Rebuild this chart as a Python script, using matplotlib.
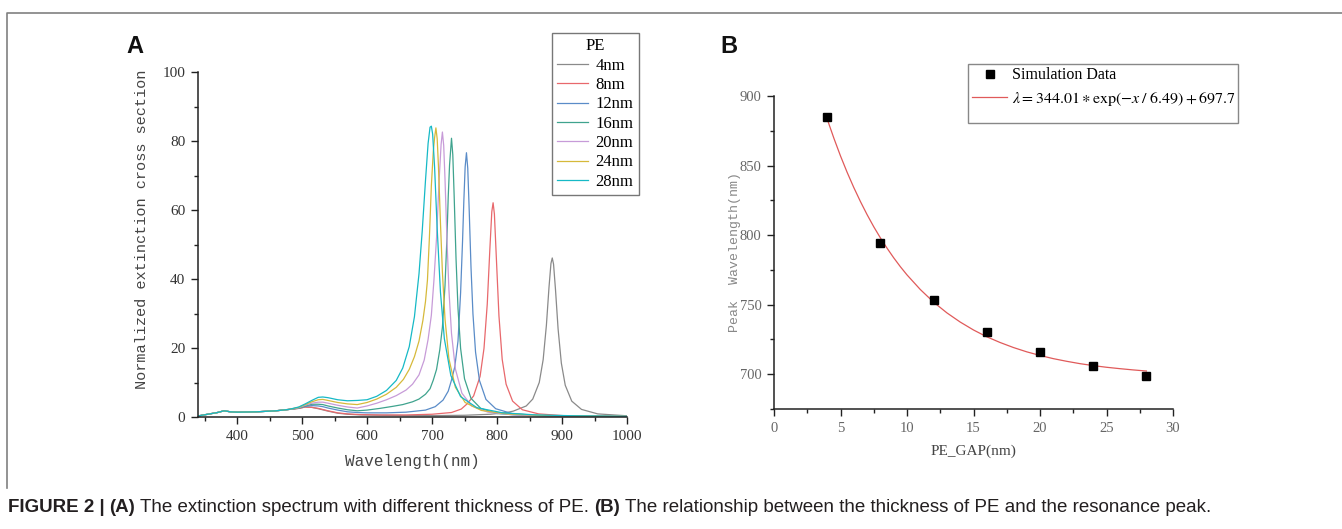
import matplotlib
matplotlib.use("Agg")
import matplotlib.pyplot as plt
from matplotlib.lines import Line2D
from matplotlib.patches import Rectangle
from matplotlib.ticker import MultipleLocator

plt.rcParams["font.family"] = "serif"
plt.rcParams["font.serif"] = ["Liberation Serif", "DejaVu Serif"]
plt.rcParams["mathtext.fontset"] = "stix"

# ---- panel A: extinction spectra ----
PE_LABELS = ["4nm", "8nm", "12nm", "16nm", "20nm", "24nm", "28nm"]
PE_COLORS = ["#8a8a8a", "#e8686c", "#5a8cc8", "#3fa38e", "#c79bd8", "#d6b93a", "#16b9c6"]

BASE_NM = [340, 355, 370, 380, 390, 400, 430, 460, 480]
BASE_VAL = [0.3, 0.8, 1.3, 1.8, 1.5, 1.4, 1.5, 1.8, 2.2]

nm_4 = BASE_NM + [495, 505, 515, 525, 540, 555, 570, 590, 620, 660, 700, 750, 790, 815,
                  825, 845, 855, 865, 871, 876, 880, 883, 885, 887, 890, 894, 899, 905,
                  915, 930, 955, 1000]
val_4 = BASE_VAL + [2.5, 2.9, 2.8, 2.4, 1.7, 1.1, 0.8, 0.6, 0.5, 0.4, 0.4, 0.5, 0.8, 1.3,
                    1.7, 3.2, 5.2, 10.0, 16.6, 26.6, 37.6, 44.5, 46.1, 44.3, 36.9, 25.5, 15.6, 9.2,
                    4.6, 2.2, 0.9, 0.35]

nm_8 = BASE_NM + [495, 505, 515, 525, 540, 555, 570, 590, 620, 660, 700, 730, 745,
                  754, 764, 774, 780, 785, 789, 792, 794, 796, 799, 803, 808, 814,
                  824, 839, 864, 904, 950, 1000]
val_8 = BASE_VAL + [2.5, 2.9, 2.8, 2.5, 1.8, 1.2, 0.9, 0.7, 0.6, 0.6, 0.8, 1.3, 2.3,
                    3.8, 6.1, 11.8, 19.9, 32.7, 48.6, 59.5, 62.1, 58.8, 46.1, 29.3, 16.7, 9.5,
                    4.6, 2.1, 0.9, 0.37, 0.25, 0.18]

nm_12 = BASE_NM + [495, 505, 515, 525, 532, 540, 555, 570, 585, 600, 630, 660, 690, 705,
                   717, 725, 730, 735, 740, 744, 747, 749, 751, 753, 755, 757, 760, 763,
                   767, 773, 783, 798, 823, 863, 920, 1000]
val_12 = BASE_VAL + [2.6, 3.1, 3.3, 3.2, 3.0, 2.6, 2.0, 1.5, 1.3, 1.2, 1.2, 1.4, 2.0, 3.0,
                     4.9, 7.5, 10.7, 14.5, 22.0, 36.0, 51.0, 62.7, 72.5, 76.6, 72.1, 61.3, 43.4, 29.9,
                     18.8, 10.6, 5.1, 2.4, 1.0, 0.45, 0.25, 0.15]

nm_16 = BASE_NM + [495, 505, 515, 525, 532, 540, 555, 570, 585, 600, 620, 640, 655, 670,
                   680, 690, 697, 702, 707, 712, 716, 720, 723, 725, 727, 730, 732, 734,
                   737, 740, 744, 750, 760, 775, 800, 840, 900, 1000]
val_16 = BASE_VAL + [2.6, 3.2, 3.7, 3.7, 3.6, 3.2, 2.6, 2.1, 1.8, 2.0, 2.5, 3.1, 3.6, 4.4,
                     5.2, 6.6, 8.2, 10.7, 13.8, 19.5, 26.0, 38.0, 52.0, 64.0, 73.0, 80.8, 76.0, 64.6,
                     45.7, 31.5, 19.9, 11.1, 5.4, 2.5, 1.0, 0.45, 0.25, 0.15]

nm_20 = BASE_NM + [495, 505, 515, 525, 532, 540, 555, 570, 585, 600, 615, 630, 645, 660,
                   670, 680, 688, 694, 699, 703, 707, 711, 714, 716, 718, 720, 723, 726,
                   730, 736, 746, 761, 786, 826, 880, 940, 1000]
val_20 = BASE_VAL + [2.7, 3.4, 4.0, 4.3, 4.3, 4.0, 3.4, 2.9, 2.6, 3.2, 4.0, 5.0, 6.2, 7.8,
                     9.5, 12.2, 16.5, 22.5, 29.5, 39.7, 52.0, 68.8, 79.0, 82.6, 78.7, 69.0, 51.5, 37.0,
                     24.2, 13.9, 6.9, 3.2, 1.4, 0.6, 0.35, 0.25, 0.2]

nm_24 = BASE_NM + [495, 505, 515, 525, 532, 540, 555, 570, 585, 600, 615, 630, 645, 656,
                   665, 673, 680, 686, 690, 693, 696, 699, 702, 704, 706, 708, 710, 713,
                   716, 720, 726, 736, 751, 776, 816, 870, 930, 1000]
val_24 = BASE_VAL + [2.8, 3.6, 4.4, 5.0, 5.1, 4.8, 4.2, 3.8, 3.6, 4.2, 5.2, 6.6, 8.6, 10.9,
                     13.8, 17.5, 22.0, 28.0, 33.5, 39.7, 52.0, 67.0, 77.0, 81.0, 83.8, 80.6, 72.3, 56.3,
                     42.0, 28.4, 16.9, 8.6, 4.2, 1.9, 0.9, 0.45, 0.3, 0.2]

nm_28 = BASE_NM + [495, 505, 515, 525, 532, 540, 555, 570, 585, 600, 615, 630, 645, 655,
                   665, 673, 680, 685, 690, 694, 697, 699, 701, 704, 708, 713, 719, 729,
                   744, 769, 809, 860, 920, 1000]
val_28 = BASE_VAL + [2.9, 3.8, 4.8, 5.7, 5.8, 5.6, 5.0, 4.7, 4.8, 5.0, 6.0, 7.7, 10.6, 14.2,
                     20.4, 29.1, 41.5, 54.0, 68.6, 79.3, 84.0, 84.3, 82.0, 72.3, 54.5, 36.2, 22.7, 12.0,
                     5.9, 2.7, 1.2, 0.6, 0.35, 0.2]

SPECTRA_NM = [nm_4, nm_8, nm_12, nm_16, nm_20, nm_24, nm_28]
SPECTRA_VAL = [val_4, val_8, val_12, val_16, val_20, val_24, val_28]

# ---- panel B: peak wavelength vs PE gap ----
GAP_NM = [4, 8, 12, 16, 20, 24, 28]
PEAK_NM = [885, 794, 753, 730, 716, 706, 699]
# fitted curve lambda = 344.01*exp(-x/6.49)+697.7, evaluated at these x
FIT_X = [4, 4.5, 5, 5.5, 6, 6.5, 7, 7.5, 8, 8.5, 9, 9.5, 10, 11, 12, 13, 14, 15, 16,
         17, 18, 19, 20, 21, 22, 23, 24, 25, 26, 27, 28]
FIT_Y = [883.4, 869.7, 856.9, 845.1, 834.2, 824.1, 814.7, 806.0, 798.0, 790.6, 783.7,
         777.3, 771.4, 760.9, 751.8, 744.1, 737.5, 731.8, 726.9, 722.8, 719.2, 716.1,
         713.5, 711.2, 709.3, 707.6, 706.2, 705.0, 704.0, 703.1, 702.3]

W, H = 1342, 529
fig = plt.figure(figsize=(W / 100, H / 100), dpi=100)


def fx(px):
    return px / W


def fy(py):
    return 1 - py / H


def style_axes(ax, label_color, size):
    for side in ("top", "right"):
        ax.spines[side].set_visible(False)
    for side in ("left", "bottom"):
        ax.spines[side].set_linewidth(1.1)
        ax.spines[side].set_color("#222222")
    ax.tick_params(which="major", direction="out", length=5, width=1.0, color="#222222",
                   labelsize=size, labelcolor=label_color, pad=4)
    ax.tick_params(which="minor", direction="out", length=3, width=1.0, color="#222222")


# ---- A ----
axA = fig.add_axes([fx(198), fy(417), fx(627 - 198), (417 - 72) / H])
for x, y, c, lab in zip(SPECTRA_NM, SPECTRA_VAL, PE_COLORS, PE_LABELS):
    axA.plot(x, y, color=c, lw=0.9, label=lab)
axA.set_xlim(340, 1000)
axA.set_ylim(0, 100)
axA.xaxis.set_major_locator(MultipleLocator(100))
axA.xaxis.set_minor_locator(MultipleLocator(50))
axA.yaxis.set_major_locator(MultipleLocator(20))
axA.yaxis.set_minor_locator(MultipleLocator(10))
style_axes(axA, "#333333", 11)
axA.set_xlabel("Wavelength(nm)", family="Liberation Mono", fontsize=11.5, color="#444444",
               labelpad=8)
axA.set_ylabel("Normalized extinction cross section", family="Liberation Mono", fontsize=11,
               color="#444444")
axA.yaxis.set_label_coords(-0.115, 0.545)
legA = axA.legend(title="PE", loc="upper left", bbox_to_anchor=(fx(552), fy(33)),
                  bbox_transform=fig.transFigure, fontsize=12, title_fontsize=12,
                  handlelength=1.85, handletextpad=0.45, labelspacing=0.2, borderpad=0.32,
                  borderaxespad=0, fancybox=False, framealpha=1, edgecolor="#777777")
legA.get_frame().set_linewidth(1.0)
fig.text(fx(126), fy(53), "A", family="Liberation Sans", fontweight="bold", fontsize=17,
         ha="left", va="baseline", color="#111111")

# ---- B ----
axB = fig.add_axes([fx(774), fy(409), fx(1173 - 774), (409 - 96) / H])
axB.plot(FIT_X, FIT_Y, color="#e05a5a", lw=0.9)
axB.plot(GAP_NM, PEAK_NM, "s", color="black", ms=5.5)
axB.set_xlim(0, 30)
axB.set_ylim(675, 900)
axB.xaxis.set_major_locator(MultipleLocator(5))
axB.xaxis.set_minor_locator(MultipleLocator(2.5))
axB.yaxis.set_major_locator(MultipleLocator(50))
axB.yaxis.set_minor_locator(MultipleLocator(25))
style_axes(axB, "#666666", 10.5)
axB.set_xlabel("PE_GAP(nm)", fontsize=11, color="#444444", labelpad=7)
axB.set_ylabel("Peak  Wavelength(nm)", family="Liberation Mono", fontsize=9.5,
               color="#888888")
axB.yaxis.set_label_coords(-0.083, 0.5)
handlesB = [Line2D([], [], marker="s", ls="none", color="black", ms=5.5),
            Line2D([], [], color="#e05a5a", lw=0.9)]
labelsB = ["Simulation Data", r"$\lambda = 344.01 \ast \mathrm{exp}(-x\;/\;6.49) + 697.7$"]
axB.legend(handlesB, labelsB, loc="upper left", bbox_to_anchor=(fx(969), fy(64)),
           bbox_transform=fig.transFigure, fontsize=11.5, frameon=False, handlelength=2.2,
           handletextpad=0.3, labelspacing=0.42, borderpad=0.2, borderaxespad=0)
fig.patches.append(Rectangle((fx(968), fy(123)), fx(1238 - 968), (123 - 64) / H,
                             transform=fig.transFigure, fill=False, ec="#888888", lw=1.0))
fig.text(fx(720), fy(53), "B", family="Liberation Sans", fontweight="bold", fontsize=17,
         ha="left", va="baseline", color="#111111")

# ---- frame and caption ----
fig.add_artist(Line2D([fx(7), fx(7), 1.0], [fy(488), fy(13), fy(13)],
                      transform=fig.transFigure, color="#808080", lw=1.2))

cap_font = ["Liberation Sans"]
pieces = [("FIGURE 2 |", "bold", "#231f20"),
          ("(A)", "bold", "#231f20"),
          ("The extinction spectrum with different thickness of PE.", "normal", "#231f20"),
          ("(B)", "bold", "#231f20"),
          ("The relationship between the thickness of PE and the resonance peak.", "normal", "#231f20")]
prev = fig.text(fx(8), fy(512), pieces[0][0], family=cap_font, fontweight=pieces[0][1],
                fontsize=13.5, color=pieces[0][2], ha="left", va="baseline")
for txt, wt, col in pieces[1:]:
    prev = fig.add_artist(plt.Annotation(txt, xy=(1, 0), xycoords=prev, xytext=(3.6, 0),
                                         textcoords="offset points", family=cap_font,
                                         fontweight=wt, fontsize=13.5, color=col,
                                         ha="left", va="bottom"))

fig.savefig("out.png", dpi=100)
